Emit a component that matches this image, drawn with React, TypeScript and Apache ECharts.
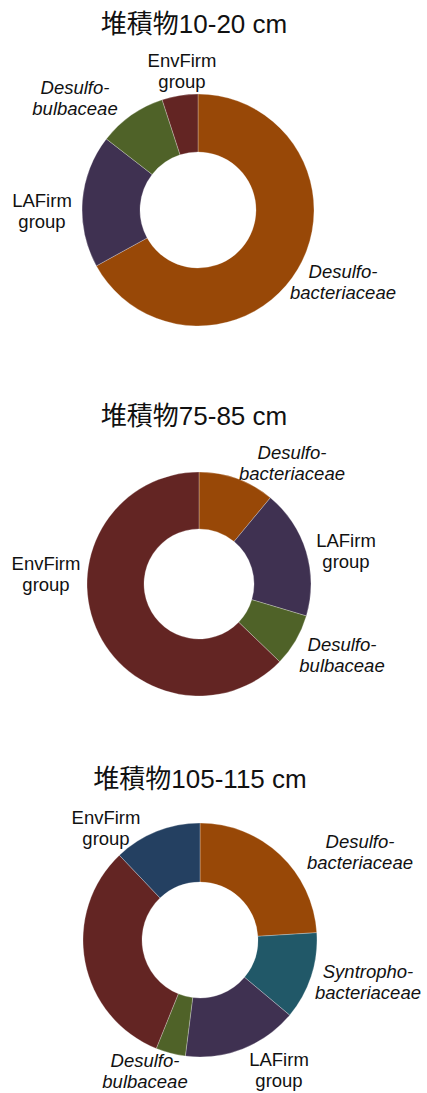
import React, { useEffect, useRef } from "react";
import * as echarts from "echarts";

// ---- data ----
const titles = ["堆積物10-20 cm", "堆積物75-85 cm", "堆積物105-115 cm"];

const names1 = ["Desulfobacteriaceae", "LAFirm group", "Desulfobulbaceae", "EnvFirm group"];
const values1 = [67, 18.5, 9.5, 5];

const names2 = ["Desulfobacteriaceae", "LAFirm group", "Desulfobulbaceae", "EnvFirm group"];
const values2 = [11, 18.6, 7.6, 62.8];

const names3 = [
  "Desulfobacteriaceae",
  "Syntrophobacteriaceae",
  "LAFirm group",
  "Desulfobulbaceae",
  "Other",
  "EnvFirm group",
];
const values3 = [24, 12.1, 15.9, 4.1, 31.8, 12.1];

const labelText: Record<string, string> = {
  Desulfobacteriaceae: "{i|Desulfo-}\n{i|bacteriaceae}",
  Syntrophobacteriaceae: "{i|Syntropho-}\n{i|bacteriaceae}",
  Desulfobulbaceae: "{i|Desulfo-}\n{i|bulbaceae}",
  "LAFirm group": "LAFirm\ngroup",
  "EnvFirm group": "EnvFirm\ngroup",
  Other: "",
};

// ---- styles / layout ----
const ORANGE = "#984807";
const PURPLE = "#3F3151";
const GREEN = "#4F6228";
const RED = "#632523";
const NAVY = "#244061";
const TEAL = "#215868";

const colors1 = [ORANGE, PURPLE, GREEN, RED];
const colors2 = [ORANGE, PURPLE, GREEN, RED];
const colors3 = [ORANGE, TEAL, PURPLE, GREEN, RED, NAVY];

const charts = [
  {
    names: names1, values: values1, colors: colors1,
    center: [198, 210], radius: [58, 116], titleX: 194, titleY: 25,
    labelOffsets: [[145, 72], [-156, 1], [-123, -112], [-16, -139]],
  },
  {
    names: names2, values: values2, colors: colors2,
    center: [199, 584], radius: [55, 112], titleX: 194, titleY: 417,
    labelOffsets: [[93, -121], [147, -33], [143, 71], [-153, -10]],
  },
  {
    names: names3, values: values3, colors: colors3,
    center: [200, 940], radius: [58, 117], titleX: 200, titleY: 780,
    labelOffsets: [[160, -88], [168, 42], [79, 130], [-55, 131], [0, 0], [-94, -112]],
  },
];

const FONT = "'Liberation Sans', Arial, 'Noto Sans CJK JP', sans-serif";

export default function App() {
  const ref = useRef<HTMLDivElement>(null);

  useEffect(() => {
    if (!ref.current) return;
    const chart = echarts.init(ref.current, undefined, { renderer: "svg" });

    const series = charts.map((c, si) => ({
      type: "pie",
      name: titles[si],
      center: c.center,
      radius: c.radius,
      startAngle: 90,
      clockwise: true,
      avoidLabelOverlap: false,
      itemStyle: {
        borderColor: "rgba(255,255,255,0.45)",
        borderWidth: 0.6,
      },
      label: {
        show: true,
        position: "outside",
        formatter: (p: any) => labelText[p.name] ?? p.name,
        color: "#111",
        fontSize: 18.5,
        fontFamily: FONT,
        lineHeight: 21,
        align: "center",
        rich: {
          i: { fontStyle: "italic", fontSize: 18.5, fontFamily: FONT, color: "#111", lineHeight: 21 },
        },
      },
      labelLine: { show: false },
      labelLayout: (params: any) => {
        const off = c.labelOffsets[params.dataIndex] || [0, 0];
        return {
          x: c.center[0] + off[0],
          y: c.center[1] + off[1],
          align: "center",
          verticalAlign: "middle",
          hideOverlap: false,
        };
      },
      emphasis: { disabled: true },
      data: c.names.map((n, i) => ({
        name: n,
        value: c.values[i],
        itemStyle: { color: c.colors[i] },
        label: n === "Other" ? { show: false } : undefined,
      })),
    }));

    chart.setOption({
      animation: false,
      backgroundColor: "#ffffff",
      title: charts.map((c, i) => ({
        text: titles[i],
        left: c.titleX,
        top: c.titleY - 14,
        textAlign: "center",
        padding: 0,
        textStyle: {
          fontSize: 26,
          fontWeight: "normal",
          color: "#111",
          fontFamily: FONT,
        },
      })),
      series,
    } as any);

    return () => chart.dispose();
  }, []);

  return (
    <div
      ref={ref}
      style={{ position: "fixed", left: 0, top: 0, width: 427, height: 1093, background: "#fff" }}
    />
  );
}
